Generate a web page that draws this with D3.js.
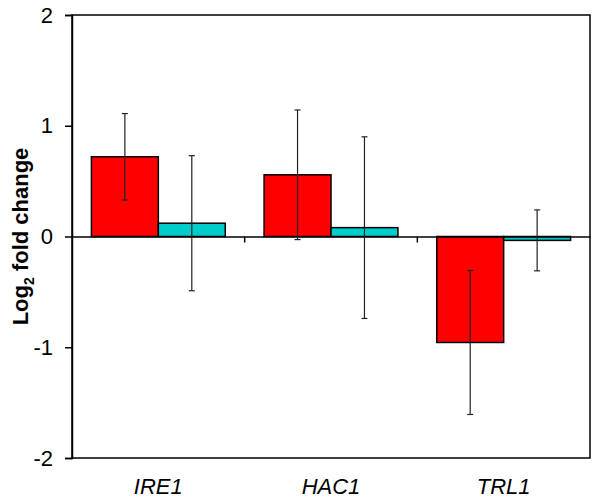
<!DOCTYPE html>
<html><head><meta charset="utf-8">
<script src="https://cdn.jsdelivr.net/npm/d3@7"></script>
<style>body{margin:0;background:#fff}svg{display:block}text{font-family:"Liberation Sans",Arial,sans-serif}</style>
</head><body>
<svg id="c" width="600" height="498"></svg>
<script>
const categories = ["IRE1", "HAC1", "TRL1"];
const seriesNames = ["s1", "s2"];
const redValues = [0.72, 0.557, -0.957];
const redErrors = [0.39, 0.585, 0.65];
const cyanValues = [0.12, 0.08, -0.035];
const cyanErrors = [0.61, 0.82, 0.275];
const yTicks = [-2, -1, 0, 1, 2];
const colors = ["#ff0000", "#00cccc"];

const svg = d3.select("#c");
const L = 72, R = 590, T = 15, B = 458;
const x = d3.scaleBand().domain(categories).range([L, R]).paddingInner(0).paddingOuter(0);
const xs = d3.scaleBand().domain(seriesNames).range([0, x.bandwidth()]).paddingInner(0).paddingOuter(0.29);
const y = d3.scaleLinear().domain([-2, 2]).range([B, T]);

const data = [];
categories.forEach((c, i) => {
  data.push({c, s: "s1", v: redValues[i], e: redErrors[i], col: colors[0]});
  data.push({c, s: "s2", v: cyanValues[i], e: cyanErrors[i], col: colors[1]});
});

// frame
svg.append("rect").attr("x", L).attr("y", T).attr("width", R - L).attr("height", B - T)
  .attr("fill", "none").attr("stroke", "#000").attr("stroke-width", 1.5);

// y axis
const ya = svg.append("g").attr("transform", `translate(${L},0)`)
  .call(d3.axisLeft(y).tickValues(yTicks).tickSize(7).tickPadding(12).tickFormat(d => String(d)));
ya.select(".domain").attr("stroke-width", 1.5);
ya.selectAll(".tick line").attr("stroke-width", 1.5);
ya.selectAll("text").attr("font-size", 22).attr("fill", "#000")
  .style("font-family", '"Liberation Sans",Arial,sans-serif');

// bars
svg.append("g").selectAll("rect").data(data).join("rect")
  .attr("x", d => x(d.c) + xs(d.s))
  .attr("width", xs.bandwidth())
  .attr("y", d => y(Math.max(0, d.v)))
  .attr("height", d => Math.abs(y(d.v) - y(0)))
  .attr("fill", d => d.col).attr("stroke", "#000").attr("stroke-width", 1.5);

// zero line with category ticks
const xa = svg.append("g").attr("transform", `translate(0,${y(0)})`)
  .call(d3.axisBottom(x).tickSize(0).tickFormat(""));
xa.select(".domain").attr("stroke-width", 1.5);
svg.append("g").selectAll("line").data(categories.slice(1)).join("line")
  .attr("x1", d => x(d)).attr("x2", d => x(d))
  .attr("y1", y(0)).attr("y2", y(0) + 6)
  .attr("stroke", "#000").attr("stroke-width", 1.5);

// error bars
const eb = svg.append("g").attr("stroke", "#222").attr("stroke-width", 1.2);
data.forEach(d => {
  const cx = x(d.c) + xs(d.s) + xs.bandwidth() / 2;
  eb.append("line").attr("x1", cx).attr("x2", cx).attr("y1", y(d.v + d.e)).attr("y2", y(d.v - d.e));
  [d.v + d.e, d.v - d.e].forEach(v => {
    eb.append("line").attr("x1", cx - 3).attr("x2", cx + 3).attr("y1", y(v)).attr("y2", y(v));
  });
});

// category labels
svg.append("g").selectAll("text").data(categories).join("text")
  .attr("x", d => x(d) + x.bandwidth() / 2).attr("y", 494)
  .attr("text-anchor", "middle").attr("font-size", 22).attr("font-style", "italic")
  .text(d => d);

// y label
const yl = svg.append("text").attr("transform", `translate(28,${y(0)}) rotate(-90)`)
  .attr("text-anchor", "middle").attr("font-size", 22).attr("font-weight", "bold");
yl.append("tspan").text("Log");
yl.append("tspan").attr("font-size", 14).attr("dy", 6).text("2");
yl.append("tspan").attr("dy", -6).text(" fold change");
</script>
</body></html>
